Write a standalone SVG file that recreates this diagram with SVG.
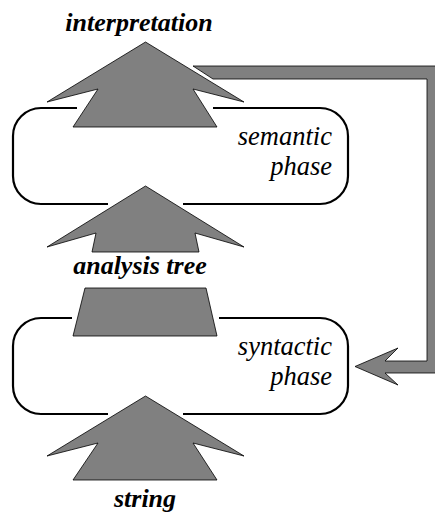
<svg xmlns="http://www.w3.org/2000/svg" width="435" height="518" viewBox="0 0 435 518">
<style>
.arrow{fill:#808080;stroke:#000;stroke-width:0.8;stroke-linejoin:miter}
.box{fill:none;stroke:#000;stroke-width:2.2;stroke-linecap:butt}
.lbl{font-family:"Liberation Serif","Times New Roman",serif;font-weight:bold;font-style:italic;font-size:26px;fill:#000;text-anchor:middle}
.ph{font-family:"Liberation Serif","Times New Roman",serif;font-style:italic;font-size:26.5px;fill:#000;text-anchor:end}
</style>
<rect width="435" height="518" fill="#fff"/>
<g id="connectors">
<polygon class="arrow" points="193,66 440,66 440,373 385,373 398,385 355,366.5 398,348 385,361 427,361 427,79 213,79"/>
</g>
<g id="semantic-phase">
<path class="box" d="M77,108 H41 A28,28 0 0 0 13,136 V176 A28,28 0 0 0 41,204 H108 M183,204 H320 A28,28 0 0 0 348,176 V136 A28,28 0 0 0 320,108 H213"/>
<text class="ph" x="332" y="145">semantic</text>
<text class="ph" x="332" y="175">phase</text>
</g>
<g id="syntactic-phase">
<path class="box" d="M72,318 H41 A28,28 0 0 0 13,346 V386 A28,28 0 0 0 41,414 H108 M183,414 H320 A28,28 0 0 0 348,386 V346 A28,28 0 0 0 320,318 H219"/>
<text class="ph" x="332" y="355">syntactic</text>
<text class="ph" x="332" y="385">phase</text>
</g>
<g id="interpretation">
<polygon class="arrow" points="145.5,42 244,102 193,89 217,127 73,127 98,89 47,102"/>
<text class="lbl" x="139" y="31">interpretation</text>
</g>
<g id="analysis-tree">
<polygon class="arrow" points="145.5,186 244,247 195,233 199,252 92,252 96,233 47,247"/>
<text class="lbl" x="140" y="274">analysis tree</text>
<polygon class="arrow" points="85,288 206,288 217,336 73,336"/>
</g>
<g id="string">
<polygon class="arrow" points="145.5,396 244,456 193,443 217,480 73,480 98,443 47,456"/>
<text class="lbl" x="145" y="507">string</text>
</g>
</svg>
